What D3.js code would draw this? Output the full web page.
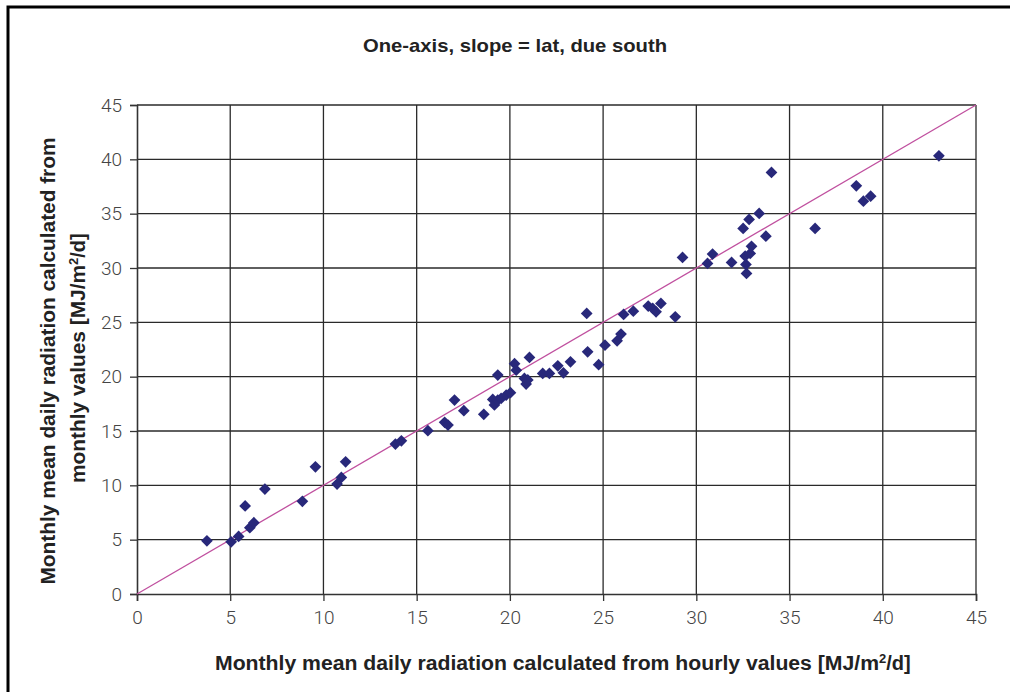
<!DOCTYPE html>
<html><head><meta charset="utf-8">
<script src="https://cdn.jsdelivr.net/npm/d3@7"></script>
<style>html,body{margin:0;padding:0;background:#fff;overflow:hidden}svg{display:block}</style>
</head><body>
<script>
const xValues = [3.75,5.05,5.45,5.8,6.05,6.27,6.86,8.87,9.57,10.73,10.96,11.19,
13.86,14.18,15.6,16.5,16.68,17.03,17.53,18.6,19.08,19.17,19.35,19.53,19.8,20.03,
19.35,20.25,20.34,21.05,20.78,20.87,20.96,21.76,22.12,22.57,22.87,23.25,24.12,24.17,
24.76,25.1,25.75,25.96,26.1,26.62,27.42,27.84,28.1,27.66,28.87,29.26,30.6,30.87,
31.89,32.69,32.66,32.62,32.89,32.96,32.51,32.83,33.37,33.73,34.03,36.37,38.58,38.96,39.35,43.01];
const yValues = [4.9,4.8,5.3,8.1,6.1,6.56,9.66,8.53,11.71,10.12,10.73,12.17,
13.8,14.1,15.03,15.8,15.55,17.85,16.87,16.53,17.9,17.4,17.85,18.0,18.3,18.52,
20.15,21.2,20.6,21.77,19.84,19.32,19.7,20.3,20.3,21.0,20.36,21.37,25.82,22.29,
21.1,22.9,23.3,23.92,25.73,26.03,26.5,25.97,26.74,26.28,25.51,30.97,30.42,31.28,
30.51,29.5,30.33,31.1,31.34,32.0,33.64,34.47,35.02,32.93,38.79,33.64,37.56,36.15,36.61,40.32];
const tickValues = [0,5,10,15,20,25,30,35,40,45];
const refLine = [[0,0],[45,45]];
const titleText = "One-axis, slope = lat, due south";
const xTitleMain = "Monthly mean daily radiation calculated from hourly values [MJ/m";
const yTitle1 = "Monthly mean daily radiation calculated from";
const yTitle2Main = "monthly values [MJ/m";
const sup = "2", unitEnd = "/d]";

const W = 1010, H = 692;
const svg = d3.select("body").append("svg").attr("width", W).attr("height", H);
// outer frame: top and left edges only visible in the crop
svg.append("path").attr("d", "M1010,7H8V692")
  .attr("fill", "none").attr("stroke", "#000").attr("stroke-width", 3);

const x = d3.scaleLinear().domain([0,45]).range([137,976]);
const y = d3.scaleLinear().domain([0,45]).range([594,105]);

// gridlines
const grid = svg.append("g");
grid.selectAll(".vg").data(tickValues.slice(1)).enter().append("line")
  .attr("x1", d=>x(d)).attr("x2", d=>x(d)).attr("y1", y(0)).attr("y2", y(45))
  .attr("stroke", "#2a2a2a").attr("stroke-width", 1.3);
grid.selectAll(".hg").data(tickValues.slice(1)).enter().append("line")
  .attr("x1", x(0)).attr("x2", x(45)).attr("y1", d=>y(d)).attr("y2", d=>y(d))
  .attr("stroke", "#2a2a2a").attr("stroke-width", 1.3);

// axes
const fontTick = "Roboto, 'Liberation Sans', Arial, sans-serif";
const xAxis = svg.append("g").attr("transform", `translate(0,${y(0)})`)
  .call(d3.axisBottom(x).tickValues(tickValues).tickSize(7).tickPadding(10));
const yAxis = svg.append("g").attr("transform", `translate(${x(0)},0)`)
  .call(d3.axisLeft(y).tickValues(tickValues).tickSize(7).tickPadding(8));
[xAxis, yAxis].forEach(a => {
  a.select(".domain").attr("stroke", "#333").attr("stroke-width", 1.6);
  a.selectAll(".tick line").attr("stroke", "#333").attr("stroke-width", 1.3);
  a.selectAll(".tick text").attr("font-family", fontTick).attr("font-size", 19)
    .attr("fill", "#444").style("font-weight", 300);
});

// reference line
svg.append("path").datum(refLine)
  .attr("d", d3.line().x(d=>x(d[0])).y(d=>y(d[1])))
  .attr("stroke", "#c0509f").attr("stroke-width", 1.3).attr("fill", "none");

// points
const pts = xValues.map((v,i)=>[v, yValues[i]]);
svg.append("g").selectAll("path").data(pts).enter().append("path")
  .attr("d", d3.symbol().type(d3.symbolDiamond2).size(88))
  .attr("transform", d=>`translate(${x(d[0])},${y(d[1])})`)
  .attr("fill", "#28287a");

// titles
const fontBold = "'Liberation Sans', Arial, sans-serif";
function boldText(g){ return g.attr("font-family", fontBold).attr("font-weight", "bold").attr("fill", "#222"); }

boldText(svg.append("text")).attr("x", 515).attr("y", 52).attr("text-anchor", "middle")
  .attr("font-size", 19).attr("textLength", 304).attr("lengthAdjust", "spacingAndGlyphs").text(titleText);

const xt = boldText(svg.append("text")).attr("x", 215).attr("y", 670).attr("font-size", 20);
xt.append("tspan").attr("textLength", 664).attr("lengthAdjust", "spacingAndGlyphs").text(xTitleMain);
xt.append("tspan").attr("dy", -7).attr("font-size", 13).text(sup);
xt.append("tspan").attr("dy", 7).text(unitEnd);

boldText(svg.append("text")).attr("transform", "translate(55,361) rotate(-90)").attr("text-anchor", "middle")
  .attr("font-size", 20).attr("textLength", 447).attr("lengthAdjust", "spacingAndGlyphs").text(yTitle1);

const t2 = boldText(svg.append("text")).attr("transform", "translate(85,483) rotate(-90)")
  .attr("font-size", 20);
t2.append("tspan").attr("textLength", 218).attr("lengthAdjust", "spacingAndGlyphs").text(yTitle2Main);
t2.append("tspan").attr("dy", -7).attr("font-size", 13).text(sup);
t2.append("tspan").attr("dy", 7).text(unitEnd);
</script>
</body></html>
